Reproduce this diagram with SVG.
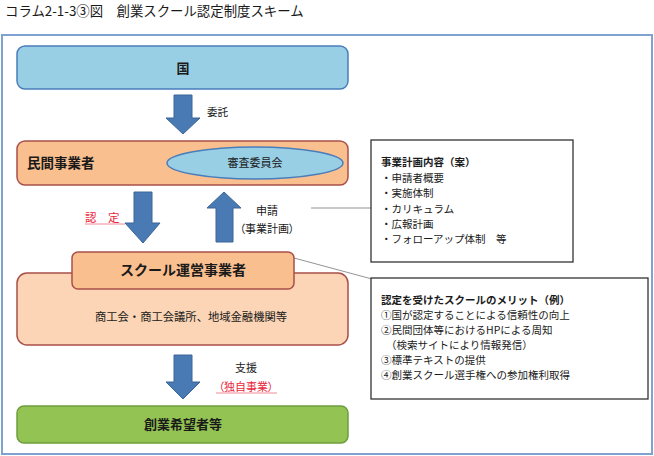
<svg xmlns="http://www.w3.org/2000/svg" width="654" height="456" viewBox="0 0 654 456">
<style>
text{font-family:"Noto Sans CJK JP","Noto Sans",sans-serif;fill:#1a1a1a}
.b{font-weight:bold}
.c{text-anchor:middle}
.red{fill:#E8283C}
.arrow{fill:#4A7AB4;stroke:#3B6598;stroke-width:1}
.blue{fill:#99CFE5;stroke:#4A7EBB;stroke-width:1.5}
.org{fill:#F9BF8F;stroke:#A9504A;stroke-width:1.5}
.peach{fill:#FBD5B5;stroke:#A9504A;stroke-width:1.5}
.green{fill:#92C353;stroke:#6E9E3E;stroke-width:1.5}
.note{fill:#fff;stroke:#333;stroke-width:1.3}
.lead{stroke:#777;stroke-width:0.8;fill:none}
.ul{stroke:#F28A9A;stroke-width:1}
</style>
<rect x="0" y="0" width="654" height="456" fill="#fff"/>
<text x="5" y="16" font-size="13.4">コラム2-1-3③図　創業スクール認定制度スキーム</text>
<rect x="2" y="35" width="650" height="419" fill="none" stroke="#7FA3D1" stroke-width="2"/>

<g id="connectors">
  <polygon class="arrow" points="174,95 192,95 192,118 200,118 183,134 166,118 174,118"/>
  <polygon class="arrow" points="134,192 152,192 152,223 160,223 143,243 125,223 134,223"/>
  <polygon class="arrow" points="216,242 233,242 233,208 241,208 224,192 207,208 216,208"/>
  <polygon class="arrow" points="174,355 192,355 192,382 200,382 183,399 166,382 174,382"/>
  <line class="lead" x1="311" y1="208" x2="371" y2="208"/>
  <line class="lead" x1="294" y1="258" x2="372" y2="279"/>
  <text x="207" y="116" font-size="10.5">委託</text>
  <text x="85" y="222" font-size="11.5" class="red">認　定</text>
  <line class="ul" x1="85" y1="224" x2="125" y2="224"/>
  <text x="267" y="215" font-size="11" class="c">申請</text>
  <text x="267" y="233" font-size="11" class="c" style="font-feature-settings:'palt'">（事業計画）</text>
  <text x="246" y="372" font-size="11" class="c">支援</text>
  <text x="246" y="391" font-size="11" class="c red" style="font-feature-settings:'palt'">（独自事業）</text>
  <line class="ul" x1="216" y1="393" x2="277" y2="393"/>
</g>

<g id="kuni">
  <rect class="blue" x="17" y="46" width="331" height="43" rx="8"/>
  <text x="183" y="73" font-size="13" class="b c">国</text>
</g>

<g id="minkan">
  <rect class="org" x="17" y="141" width="331" height="44" rx="8"/>
  <text x="27" y="168" font-size="13.5" class="b">民間事業者</text>
</g>

<g id="shinsa">
  <ellipse class="blue" cx="255" cy="163" rx="88" ry="16"/>
  <text x="255" y="167" font-size="11" class="c">審査委員会</text>
</g>

<g id="shoko">
  <rect class="peach" x="17" y="273" width="331" height="72" rx="10"/>
  <text x="191" y="321" font-size="11.3" class="c">商工会・商工会議所、地域金融機関等</text>
</g>

<g id="school">
  <rect class="org" x="72" y="252" width="222" height="37" rx="6"/>
  <text x="183" y="275" font-size="14" class="b c">スクール運営事業者</text>
</g>

<g id="sogyo">
  <rect class="green" x="17" y="406" width="331" height="37" rx="7"/>
  <text x="183" y="429" font-size="13" class="b c">創業希望者等</text>
</g>

<g id="note1">
  <rect class="note" x="371" y="140" width="202" height="122"/>
  <text font-size="10.5">
    <tspan x="381" y="166" class="b">事業計画内容（案）</tspan>
    <tspan x="381" y="182">・申請者概要</tspan>
    <tspan x="381" y="197">・実施体制</tspan>
    <tspan x="381" y="213">・カリキュラム</tspan>
    <tspan x="381" y="228">・広報計画</tspan>
    <tspan x="381" y="243">・フォローアップ体制　等</tspan>
  </text>
</g>

<g id="note2">
  <rect class="note" x="371" y="278" width="277" height="121"/>
  <text font-size="10.5">
    <tspan x="381" y="304" class="b">認定を受けたスクールのメリット（例）</tspan>
    <tspan x="381" y="319">①国が認定することによる信頼性の向上</tspan>
    <tspan x="381" y="334">②民間団体等におけるHPによる周知</tspan>
    <tspan x="386" y="349">（検索サイトにより情報発信）</tspan>
    <tspan x="381" y="364">③標準テキストの提供</tspan>
    <tspan x="381" y="379">④創業スクール選手権への参加権利取得</tspan>
  </text>
</g>
</svg>
